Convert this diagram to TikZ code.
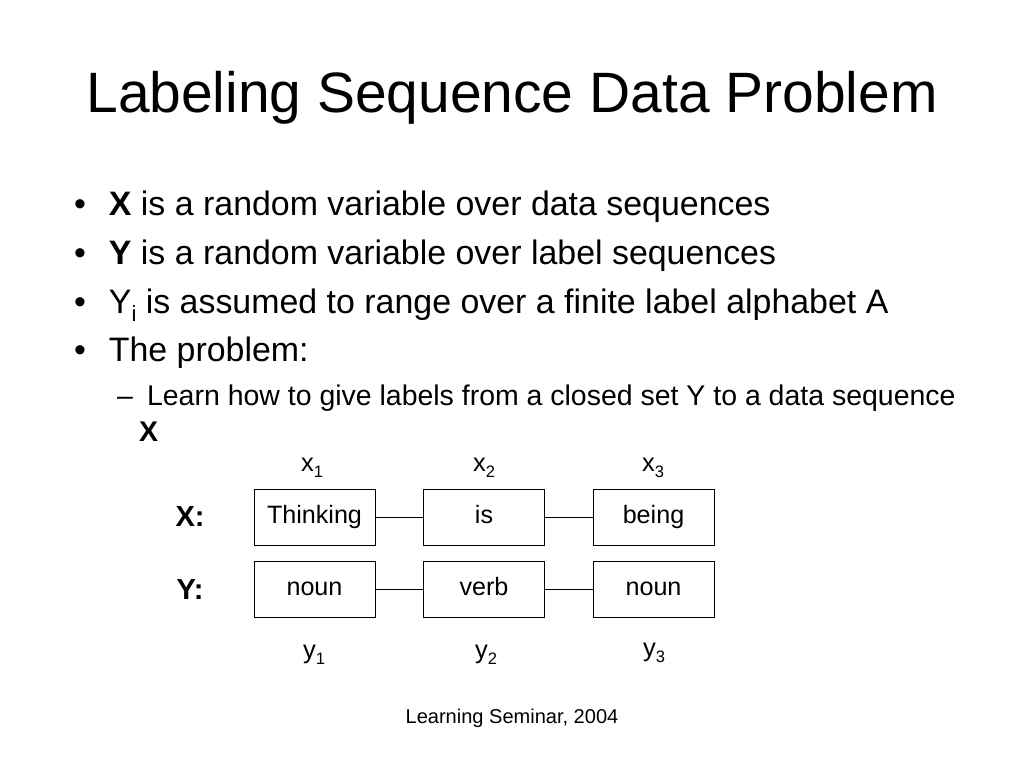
\documentclass[tikz,border=0pt]{standalone}
\usepackage{fontspec}
\setmainfont{Liberation Sans}
\usetikzlibrary{positioning}
\newcommand{\lowsub}[1]{\raisebox{-0.45ex}{\scalebox{0.65}{#1}}}
\tikzset{word/.style={draw,minimum width=2.42cm,minimum height=1.12cm,text height=1.6ex,text depth=.3ex,font=\fontsize{14.3}{16}\selectfont}}
\tikzset{lab/.style={text height=1.6ex,text depth=.3ex,font=\fontsize{14.5}{16}\selectfont}}
\tikzset{bul/.style={anchor=west,font=\fontsize{19.3}{22}\selectfont}}
\begin{document}
\begin{tikzpicture}[x=0.02cm,y=-0.02cm]
	\useasboundingbox (0,0) rectangle (1024,768);

	\node (title) at (512,98) {\fontsize{32.4}{36}\selectfont Labeling Sequence Data Problem};

	% bullets
	\node[bul] (b1) at (68,207) {\textbullet\hspace{13pt}\textbf{X} is a random variable over data sequences};
	\node[bul] (b2) at (68,256) {\textbullet\hspace{13pt}\textbf{Y} is a random variable over label sequences};
	\node[bul] (b3) at (68,305) {\textbullet\hspace{13pt}Y\lowsub{i} is assumed to range over a finite label alphabet A};
	\node[bul] (b4) at (68,353) {\textbullet\hspace{13pt}The problem:};
	\node[anchor=west,font=\fontsize{16.2}{18}\selectfont] (s1) at (111,398) {--\hspace{8pt}Learn how to give labels from a closed set Y to a data sequence};
	\node[anchor=west,font=\fontsize{16.2}{18}\selectfont] (s2) at (133,432) {\textbf{X}};

	% sequences
	\node[word] (w1) at (314.5,517) {Thinking};
	\node[word] (w2) at (484,517) {is};
	\node[word] (w3) at (653.5,517) {being};
	\node[word] (t1) at (314.5,589.5) {noun};
	\node[word] (t2) at (484,589.5) {verb};
	\node[word] (t3) at (653.5,589.5) {noun};
	\draw (w1) -- (w2) (w2) -- (w3);
	\draw (t1) -- (t2) (t2) -- (t3);

	\node[lab] (x1) at (312,465) {x\lowsub{1}};
	\node[lab] (x2) at (484,465) {x\lowsub{2}};
	\node[lab] (x3) at (653,465) {x\lowsub{3}};
	\node[lab] (y1) at (314,652) {y\lowsub{1}};
	\node[lab] (y2) at (486,652) {y\lowsub{2}};
	\node[lab] (y3) at (654,650) {y\lowsub{3}};

	\node[font=\fontsize{16.5}{18}\selectfont\bfseries] (X) at (190,517) {X:};
	\node[font=\fontsize{16.5}{18}\selectfont\bfseries] (Y) at (190,590) {Y:};

	\node[font=\fontsize{11.4}{13}\selectfont] (foot) at (512,718) {Learning Seminar, 2004};
\end{tikzpicture}
\end{document}
